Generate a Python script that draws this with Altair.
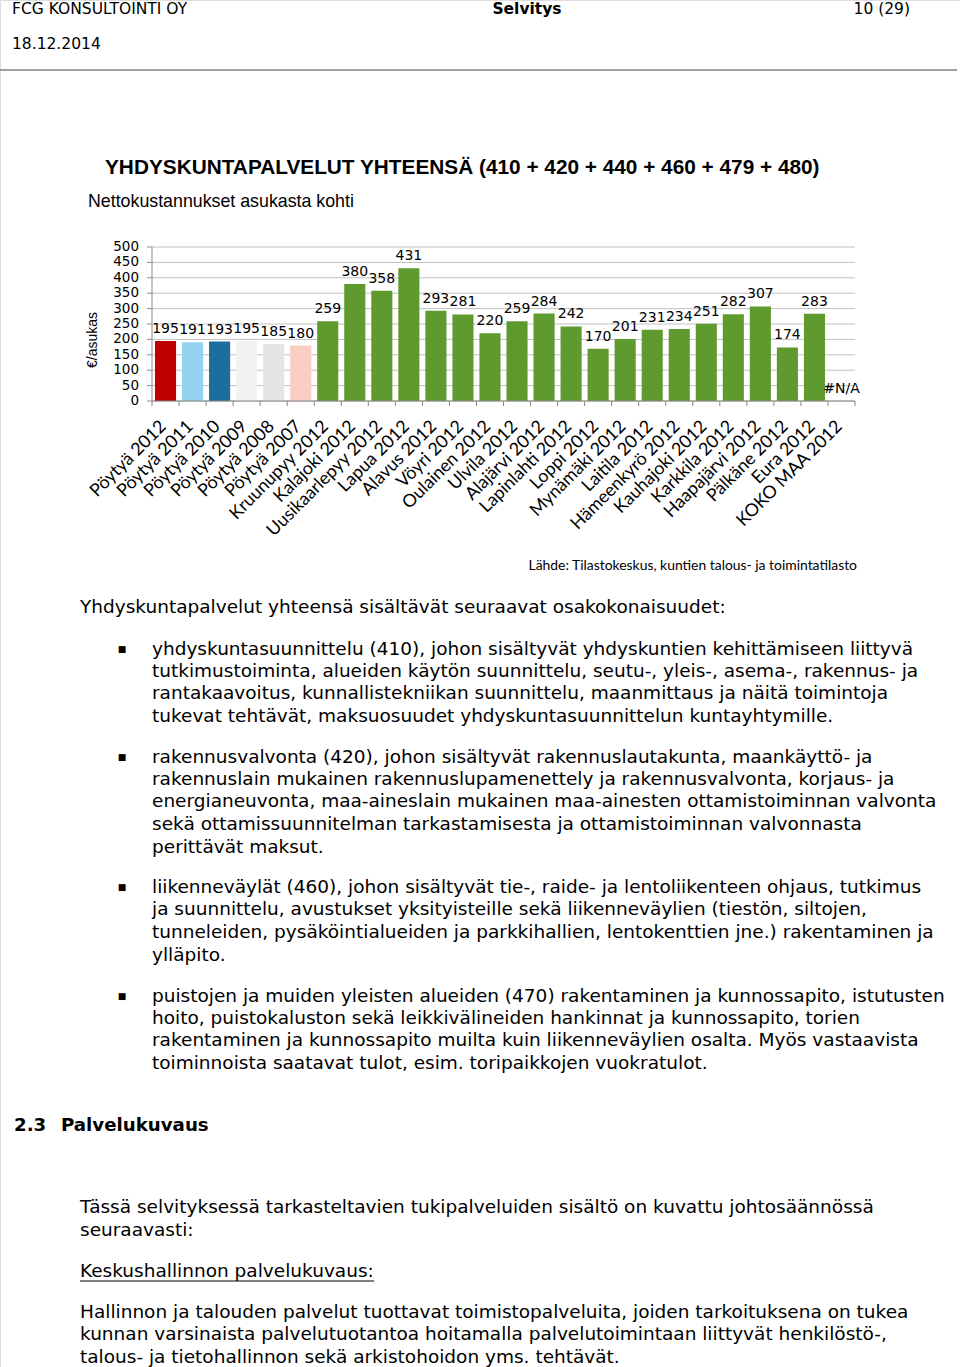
import altair as alt
import pandas as pd

# ---------------- data ----------------
categories = ["Pöytyä 2012", "Pöytyä 2011", "Pöytyä 2010", "Pöytyä 2009", "Pöytyä 2008",
              "Pöytyä 2007", "Kruunupyy 2012", "Kalajoki 2012", "Uusikaarlepyy 2012",
              "Lapua 2012", "Alavus 2012", "Vöyri 2012", "Oulainen 2012", "Ulvila 2012",
              "Alajärvi 2012", "Lapinlahti 2012", "Loppi 2012", "Mynämäki 2012",
              "Laitila 2012", "Hämeenkyrö 2012", "Kauhajoki 2012", "Karkkila 2012",
              "Haapajärvi 2012", "Pälkäne 2012", "Eura 2012", "KOKO MAA 2012"]
values = [195, 191, 193, 195, 185, 180, 259, 380, 358, 431, 293, 281, 220, 259, 284,
          242, 170, 201, 231, 234, 251, 282, 307, 174, 283, None]
bar_colors = ["#C00000", "#93D2EE", "#1C6E9E", "#F2F2F2", "#E4E4E4", "#FACDC2"] + ["#5F9A2F"] * 20
y_ticks = [0, 50, 100, 150, 200, 250, 300, 350, 400, 450, 500]

chart_title = "YHDYSKUNTAPALVELUT YHTEENSÄ (410 + 420 + 440 + 460 + 479 + 480)"
chart_subtitle = "Nettokustannukset asukasta kohti"
y_title = "€/asukas"
source_text = "Lähde: Tilastokeskus, kuntien talous- ja toimintatilasto"

header_lines = [
    (12, 9, "FCG KONSULTOINTI OY", "left"),
    (12, 44, "18.12.2014", "left"),
    (910, 9, "10 (29)", "right"),
]
body_lines = [
    (80, 607, "Yhdyskuntapalvelut yhteensä sisältävät seuraavat osakokonaisuudet:"),
    (152, 649, "yhdyskuntasuunnittelu (410), johon sisältyvät yhdyskuntien kehittämiseen liittyvä"),
    (152, 671, "tutkimustoiminta, alueiden käytön suunnittelu, seutu-, yleis-, asema-, rakennus- ja"),
    (152, 693, "rantakaavoitus, kunnallistekniikan suunnittelu, maanmittaus ja näitä toimintoja"),
    (152, 716, "tukevat tehtävät, maksuosuudet yhdyskuntasuunnittelun kuntayhtymille."),
    (152, 757, "rakennusvalvonta (420), johon sisältyvät rakennuslautakunta, maankäyttö- ja"),
    (152, 779, "rakennuslain mukainen rakennuslupamenettely ja rakennusvalvonta, korjaus- ja"),
    (152, 801, "energianeuvonta, maa-aineslain mukainen maa-ainesten ottamistoiminnan valvonta"),
    (152, 824, "sekä ottamissuunnitelman tarkastamisesta ja ottamistoiminnan valvonnasta"),
    (152, 847, "perittävät maksut."),
    (152, 887, "liikenneväylät (460), johon sisältyvät tie-, raide- ja lentoliikenteen ohjaus, tutkimus"),
    (152, 909, "ja suunnittelu, avustukset yksityisteille sekä liikenneväylien (tiestön, siltojen,"),
    (152, 932, "tunneleiden, pysäköintialueiden ja parkkihallien, lentokenttien jne.) rakentaminen ja"),
    (152, 955, "ylläpito."),
    (152, 996, "puistojen ja muiden yleisten alueiden (470) rakentaminen ja kunnossapito, istutusten"),
    (152, 1018, "hoito, puistokaluston sekä leikkivälineiden hankinnat ja kunnossapito, torien"),
    (152, 1040, "rakentaminen ja kunnossapito muilta kuin liikenneväylien osalta. Myös vastaavista"),
    (152, 1063, "toiminnoista saatavat tulot, esim. toripaikkojen vuokratulot."),
    (80, 1207, "Tässä selvityksessä tarkasteltavien tukipalveluiden sisältö on kuvattu johtosäännössä"),
    (80, 1230, "seuraavasti:"),
    (80, 1271, "Keskushallinnon palvelukuvaus:"),
    (80, 1312, "Hallinnon ja talouden palvelut tuottavat toimistopalveluita, joiden tarkoituksena on tukea"),
    (80, 1334, "kunnan varsinaista palvelutuotantoa hoitamalla palvelutoimintaan liittyvät henkilöstö-,"),
    (80, 1357, "talous- ja tietohallinnon sekä arkistohoidon yms. tehtävät."),
]
bullets_y = [649, 757, 887, 996]
heading_lines = [(14, 1126, "2.3"), (61, 1126, "Palvelukuvaus")]

# ---------------- tables ----------------
bars = pd.DataFrame({
    "cat": categories,
    "value": values,
    "label": [str(v) if v is not None else "#N/A" for v in values],
    "labely": [v if v is not None else 0 for v in values],
})
ticks_df = pd.DataFrame({"v": y_ticks, "t": [str(v) for v in y_ticks]})
one = pd.DataFrame({"k": [0]})
header_df = pd.DataFrame(header_lines, columns=["x", "y", "text", "align"])
body_df = pd.DataFrame(body_lines, columns=["x", "y", "text"])
bullet_df = pd.DataFrame({"x": [122] * len(bullets_y), "y": bullets_y, "text": ["■"] * len(bullets_y)})
heading_df = pd.DataFrame(heading_lines, columns=["x", "y", "text"])

X0, X1, Y0, Y1 = 152, 855, 401, 247
xs = alt.Scale(domain=categories, range=[X0, X1], paddingInner=0.22, paddingOuter=0.11)
ys = alt.Scale(domain=[0, 500], range=[Y0, Y1])
step = (X1 - X0) / len(categories)

BODY_FONT = "DejaVu Sans"
BODY_SIZE = 18.5


def px(df):
    return alt.Chart(df).encode(
        x=alt.X("x:Q", scale=None, axis=None),
        y=alt.Y("y:Q", scale=None, axis=None),
        text="text:N",
    )


def single_text(txt, x, y, **kw):
    return alt.Chart(one).mark_text(color="#000000", **kw).encode(
        x=alt.value(x), y=alt.value(y), text=alt.value(txt))


def single_rule(x, x2, y, y2=None, **kw):
    enc = dict(x=alt.value(x), x2=alt.value(x2), y=alt.value(y))
    if y2 is not None:
        enc["y2"] = alt.value(y2)
    return alt.Chart(one).mark_rule(**kw).encode(**enc)


# gridlines
grid = alt.Chart(ticks_df).mark_rule(color="#C0C0C0", strokeWidth=1).encode(
    y=alt.Y("v:Q", scale=ys, axis=None), x=alt.value(X0), x2=alt.value(X1))
ytick_marks = alt.Chart(ticks_df).mark_rule(color="#8C8C8C", strokeWidth=1).encode(
    y=alt.Y("v:Q", scale=ys, axis=None), x=alt.value(X0 - 5), x2=alt.value(X0))
yaxis_line = single_rule(X0, X0, Y1, Y0, color="#8C8C8C", strokeWidth=1)
ylabels = alt.Chart(ticks_df).mark_text(align="right", baseline="middle", font="DejaVu Sans",
                                        fontSize=13.5, color="#000000").encode(
    y=alt.Y("v:Q", scale=ys, axis=None), x=alt.value(139), text="t:N")

barlayer = alt.Chart(bars).mark_bar().encode(
    x=alt.X("cat:N", scale=xs, axis=None),
    y=alt.Y("value:Q", scale=ys, axis=None),
    color=alt.Color("cat:N", scale=alt.Scale(domain=categories, range=bar_colors), legend=None),
)
baseline_rule = single_rule(X0, X1, Y0, color="#868686", strokeWidth=1.2)
xticks_left = alt.Chart(bars).mark_rule(color="#868686", xOffset=-step / 2).encode(
    x=alt.X("cat:N", scale=xs, axis=None), y=alt.value(Y0), y2=alt.value(Y0 + 5))
xticks_right = single_rule(X1, X1, Y0, Y0 + 5, color="#868686")
vlabels = alt.Chart(bars).mark_text(baseline="alphabetic", align="center", dy=-8,
                                    font="DejaVu Sans", fontSize=14, color="#000000").encode(
    x=alt.X("cat:N", scale=xs, axis=None),
    y=alt.Y("labely:Q", scale=ys, axis=None),
    text="label:N",
)
xlabels = alt.Chart(bars).mark_text(angle=315, align="right", baseline="middle", font="Lato",
                                    fontSize=17.8, color="#000000", xOffset=-2).encode(
    x=alt.X("cat:N", scale=xs, axis=None), y=alt.value(424), text="cat:N")

title = single_text(chart_title, 105, 168, align="left", baseline="middle",
                    font="Liberation Sans", fontWeight="bold", fontSize=20.8)
subtitle = single_text(chart_subtitle, 88, 202, align="left", baseline="middle",
                       font="Liberation Sans", fontSize=17.8)
ytitle = single_text(y_title, 93, 340, angle=270, align="center", baseline="middle",
                     font="Liberation Sans", fontSize=14)
source = single_text(source_text, 857, 566, align="right", baseline="middle",
                     font="Lato", fontSize=13.9)

header_left = px(header_df[header_df["align"] == "left"]).mark_text(
    align="left", baseline="middle", font="DejaVu Sans", fontSize=15.5, color="#000000")
header_right = px(header_df[header_df["align"] == "right"]).mark_text(
    align="right", baseline="middle", font="DejaVu Sans", fontSize=15.5, color="#000000")
header_center = single_text("Selvitys", 527, 9, align="center", baseline="middle",
                            font="DejaVu Sans", fontWeight="bold", fontSize=15.5)
header_rule = single_rule(0, 957, 70, color="#A0A0A0", strokeWidth=2)

body = px(body_df).mark_text(align="left", baseline="middle", font=BODY_FONT,
                             fontSize=BODY_SIZE, color="#000000")
bullets = px(bullet_df).mark_text(align="center", baseline="middle", font="DejaVu Sans",
                                  fontSize=9, color="#000000")
heading = px(heading_df).mark_text(align="left", baseline="middle", font="DejaVu Sans",
                                   fontWeight="bold", fontSize=18.2, color="#000000")
underline = single_rule(80, 374, 1281, color="#000000", strokeWidth=1)

chart = alt.layer(
    grid, ytick_marks, yaxis_line, barlayer, baseline_rule, xticks_left, xticks_right,
    ylabels, vlabels, xlabels, title, subtitle, ytitle, source,
    header_left, header_right, header_center, header_rule,
    body, bullets, heading, underline,
).resolve_scale(x="independent", y="independent", color="independent").properties(
    width=960, height=1367, autosize=alt.AutoSizeParams(type="none"), padding=0,
).configure_view(stroke=None).configure(background="white")

chart.save("out.html", embed_options={"renderer": "svg", "actions": False})
